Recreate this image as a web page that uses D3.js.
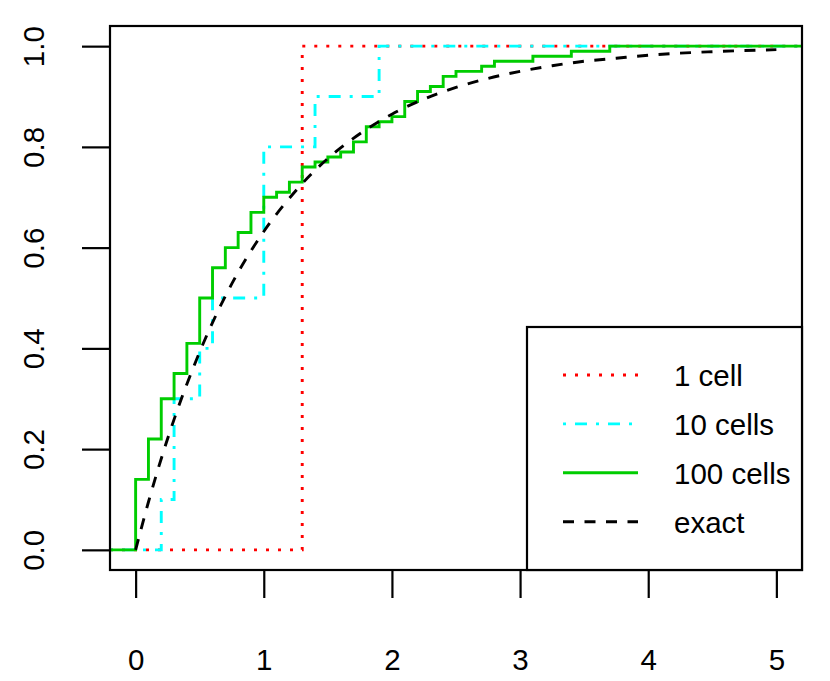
<!DOCTYPE html>
<html>
<head>
<meta charset="utf-8">
<script src="https://cdn.jsdelivr.net/npm/d3@7"></script>
<style>
    body { margin: 0; background: #fff; }
    text { font-family: "Liberation Sans", Arial, Helvetica, sans-serif; }
</style>
</head>
<body>
<div id="chart"></div>
<script>
// tick labels
const xTicks = [0, 1, 2, 3, 4, 5];
const yTicks = [0, 0.2, 0.4, 0.6, 0.8, 1.0];

// 1 cell: jump positions and levels
const cell1Jumps = [1.3];
const cell1Levels = [0, 1];

// 10 cells
const cell10Jumps = [0.2, 0.3, 0.5, 0.6, 1.0, 1.4, 1.9];
const cell10Levels = [0, 0.1, 0.3, 0.4, 0.5, 0.8, 0.9, 1.0];

// 100 cells
const cell100Jumps = [0.0, 0.1, 0.2, 0.3, 0.4, 0.5, 0.6, 0.7, 0.8, 0.9,
    1.0, 1.1, 1.2, 1.3, 1.4, 1.5, 1.6, 1.7, 1.8, 1.9,
    2.0, 2.1, 2.2, 2.3, 2.4, 2.5, 2.7, 2.8, 3.1, 3.4, 3.7];
const cell100Levels = [0, 0.14, 0.22, 0.30, 0.35, 0.41, 0.50, 0.56, 0.60, 0.63, 0.67,
    0.70, 0.71, 0.73, 0.76, 0.77, 0.78, 0.79, 0.81, 0.84, 0.85,
    0.86, 0.89, 0.91, 0.92, 0.94, 0.95, 0.96, 0.97, 0.98, 0.99, 1.00];

// exact curve
const exactX = [0, 0.1, 0.25, 0.5, 0.75, 1, 1.25, 1.5, 1.75, 2, 2.25, 2.5, 2.75, 3, 3.25, 3.5, 3.75, 4, 4.5, 5];
const exactY = [0, 0.095, 0.221, 0.393, 0.528, 0.632, 0.713, 0.777, 0.826, 0.865, 0.895, 0.918, 0.936, 0.950, 0.961, 0.970, 0.976, 0.982, 0.989, 0.993];

const legendLabels = ["1 cell", "10 cells", "100 cells", "exact"];

const W = 830, H = 681;
const plot = {left: 110, right: 802, top: 26, bottom: 570};
const fontSize = 29.5;

const svg = d3.select("#chart").append("svg")
    .attr("width", W)
    .attr("height", H);

svg.append("rect").attr("width", W).attr("height", H).attr("fill", "#fff");

const x = d3.scaleLinear().domain([-0.2, 5.2]).range([plot.left, plot.right]);
const y = d3.scaleLinear().domain([-0.04, 1.04]).range([plot.bottom, plot.top]);

svg.append("clipPath").attr("id", "clip")
    .append("rect")
    .attr("x", plot.left).attr("y", plot.top)
    .attr("width", plot.right - plot.left)
    .attr("height", plot.bottom - plot.top);

function stepPoints(jumps, levels) {
    const pts = [[-0.2, levels[0]]];
    jumps.forEach(function (j, i) {
        pts.push([j, levels[i + 1]]);
    });
    pts.push([5.2, levels[levels.length - 1]]);
    return pts;
}

const stepLine = d3.line()
    .x(function (d) { return x(d[0]); })
    .y(function (d) { return y(d[1]); })
    .curve(d3.curveStepAfter);

const smoothLine = d3.line()
    .x(function (d) { return x(d[0]); })
    .y(function (d) { return y(d[1]); })
    .curve(d3.curveMonotoneX);

const series = [
    {pts: stepPoints(cell1Jumps, cell1Levels), line: stepLine, color: "#FF0000", dash: "3,9"},
    {pts: stepPoints(cell10Jumps, cell10Levels), line: stepLine, color: "#00FFFF", dash: "3,9,12,9"},
    {pts: stepPoints(cell100Jumps, cell100Levels), line: stepLine, color: "#00CD00", dash: null},
    {pts: exactX.map(function (v, i) { return [v, exactY[i]]; }), line: smoothLine, color: "#000000", dash: "11,10.5"}
];

const g = svg.append("g").attr("clip-path", "url(#clip)");
series.forEach(function (s) {
    g.append("path")
        .attr("d", s.line(s.pts))
        .attr("fill", "none")
        .attr("stroke", s.color)
        .attr("stroke-width", 2.9)
        .attr("stroke-dasharray", s.dash);
});

// Add X axis
const xAxis = svg.append("g")
    .attr("transform", "translate(0," + plot.bottom + ")")
    .call(d3.axisBottom(x).tickValues(xTicks).tickSize(28).tickSizeOuter(0).tickFormat(d3.format("d")));
xAxis.select(".domain").remove();
xAxis.selectAll("line").attr("stroke", "#000").attr("stroke-width", 2.2);
xAxis.selectAll("text")
    .attr("y", 100).attr("dy", 0)
    .attr("font-size", fontSize)
    .attr("font-family", "Liberation Sans, Arial, sans-serif")
    .attr("fill", "#000");

// Add Y axis
const yAxis = svg.append("g")
    .attr("transform", "translate(" + plot.left + ",0)")
    .call(d3.axisLeft(y).tickValues(yTicks).tickSize(28).tickSizeOuter(0).tickFormat(d3.format(".1f")));
yAxis.select(".domain").remove();
yAxis.selectAll("line").attr("stroke", "#000").attr("stroke-width", 2.2);
yAxis.selectAll("text")
    .attr("x", 0).attr("y", 0).attr("dy", 0)
    .attr("transform", "translate(-66,0) rotate(-90)")
    .attr("text-anchor", "middle")
    .attr("font-size", fontSize)
    .attr("font-family", "Liberation Sans, Arial, sans-serif")
    .attr("fill", "#000");

// plot box
svg.append("rect")
    .attr("x", plot.left).attr("y", plot.top)
    .attr("width", plot.right - plot.left)
    .attr("height", plot.bottom - plot.top)
    .attr("fill", "none")
    .attr("stroke", "#000")
    .attr("stroke-width", 2.2);

// legend
const legend = svg.append("g");
legend.append("rect")
    .attr("x", 527).attr("y", 327)
    .attr("width", plot.right - 527)
    .attr("height", plot.bottom - 327)
    .attr("fill", "#fff")
    .attr("stroke", "#000")
    .attr("stroke-width", 2.2);

legendLabels.forEach(function (lab, i) {
    const cy = 375 + i * 48.9;
    legend.append("line")
        .attr("x1", 563).attr("x2", 638)
        .attr("y1", cy).attr("y2", cy)
        .attr("stroke", series[i].color)
        .attr("stroke-width", 2.9)
        .attr("stroke-dasharray", series[i].dash);
    legend.append("text")
        .attr("x", 674).attr("y", cy + 11)
        .attr("font-size", fontSize)
        .attr("fill", "#000")
        .text(lab);
});
</script>
</body>
</html>
